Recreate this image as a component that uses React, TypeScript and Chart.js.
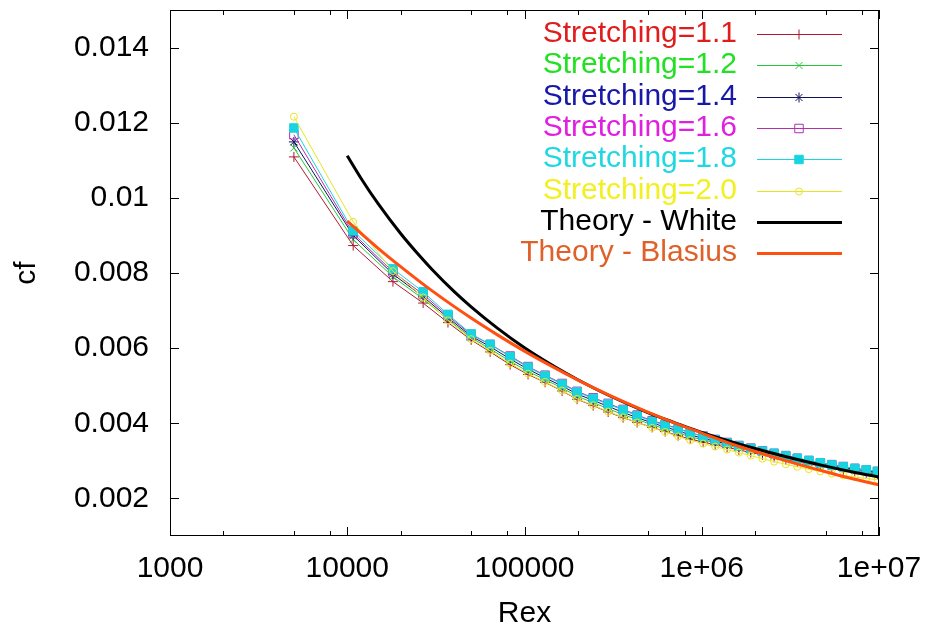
import React, { useEffect, useRef } from "react";
import { Chart, registerables } from "chart.js";
import { drawPoint } from "chart.js/helpers";

Chart.register(...registerables);

// ---------- data ----------
const rexGrid = [
  5000, 10800, 18100, 26800, 37000, 50000, 64000, 83000, 104700, 130600,
  163000, 198000, 244000, 296500, 360000, 432000, 525000, 621000, 736000, 861000,
  1018000, 1190000, 1390000, 1620000, 1890000, 2200000, 2560000, 2980000, 3460000, 4020000,
  4670000, 5420000, 6290000, 7300000, 8470000, 9800000,
];

const cfStretch11 = [
  0.01109, 0.00873, 0.00777, 0.0072, 0.00668, 0.00622, 0.0059, 0.00556, 0.0053, 0.00509,
  0.00486, 0.00464, 0.00447, 0.0043, 0.00415, 0.00402, 0.00389, 0.00378, 0.00367, 0.00358,
  0.0035, 0.00343, 0.00336, 0.00329, 0.00322, 0.00316, 0.00309, 0.00303, 0.00297, 0.00292,
  0.00286, 0.00281, 0.00276, 0.00272, 0.00268, 0.00264,
];
const cfStretch12 = [
  0.01133, 0.00889, 0.0079, 0.00731, 0.00676, 0.00628, 0.00598, 0.00565, 0.00538, 0.00516,
  0.00494, 0.00472, 0.00455, 0.00439, 0.00423, 0.0041, 0.00396, 0.00385, 0.00375, 0.00364,
  0.00356, 0.00348, 0.00341, 0.00334, 0.00327, 0.0032, 0.00313, 0.00307, 0.00301, 0.00295,
  0.00289, 0.00284, 0.00279, 0.00275, 0.00271, 0.00267,
];
const cfStretch14 = [
  0.01149, 0.009, 0.00797, 0.00737, 0.00681, 0.00632, 0.00604, 0.00571, 0.00544, 0.00521,
  0.00499, 0.00478, 0.00461, 0.00445, 0.00429, 0.00415, 0.00401, 0.0039, 0.0038, 0.00369,
  0.0036, 0.00352, 0.00345, 0.00337, 0.0033, 0.00323, 0.00316, 0.0031, 0.00304, 0.00298,
  0.00292, 0.00287, 0.00282, 0.00278, 0.00274, 0.0027,
];
const cfStretch16 = [
  0.01168, 0.00905, 0.00803, 0.00743, 0.00686, 0.00636, 0.0061, 0.00579, 0.00551, 0.00528,
  0.00506, 0.00485, 0.00468, 0.00453, 0.00437, 0.00422, 0.00407, 0.00397, 0.00386, 0.00375,
  0.00366, 0.00357, 0.00349, 0.00341, 0.00334, 0.00327, 0.0032, 0.00314, 0.00307, 0.00301,
  0.00295, 0.0029, 0.00285, 0.0028, 0.00276, 0.00272,
];
const cfStretch18 = [
  0.01186, 0.00912, 0.00811, 0.0075, 0.0069, 0.00638, 0.0061, 0.00577, 0.00549, 0.00526,
  0.00504, 0.00483, 0.00466, 0.00451, 0.00435, 0.0042, 0.00405, 0.00395, 0.00385, 0.00374,
  0.00365, 0.00356, 0.00348, 0.0034, 0.00333, 0.00326, 0.0032, 0.00313, 0.00307, 0.00301,
  0.00295, 0.00289, 0.00284, 0.0028, 0.00276, 0.00272,
];
const cfStretch20 = [
  0.01216, 0.00936, 0.00805, 0.00735, 0.00674, 0.00624, 0.00593, 0.00559, 0.00532, 0.0051,
  0.00487, 0.00465, 0.00448, 0.00431, 0.00416, 0.00402, 0.00388, 0.00377, 0.00365, 0.00355,
  0.00346, 0.00338, 0.0033, 0.00322, 0.00314, 0.00306, 0.00298, 0.00291, 0.00284, 0.00278,
  0.00272, 0.00266, 0.00261, 0.00257, 0.00253, 0.0025,
];

const rexWhite = [
  10000, 12000, 15000, 20000, 25000, 30000, 40000, 50000, 70000, 100000, 150000,
  200000, 300000, 500000, 700000, 1000000, 1500000, 2000000, 3000000, 5000000, 7000000, 10000000,
];
const cfWhite = [
  0.01112, 0.01051, 0.00983, 0.00905, 0.00851, 0.0081, 0.00751, 0.0071, 0.00654, 0.00601, 0.00549,
  0.00516, 0.00474, 0.00428, 0.00402, 0.00376, 0.0035, 0.00333, 0.00311, 0.00286, 0.00271, 0.00257,
];

const rexBlasius = [
  10000, 15000, 20000, 30000, 50000, 70000, 100000, 150000, 200000, 300000,
  500000, 700000, 1000000, 1500000, 2000000, 3000000, 5000000, 7000000, 10000000,
];
const cfBlasius = [
  0.00938, 0.00865, 0.00817, 0.00753, 0.0068, 0.00636, 0.00592, 0.00546, 0.00515, 0.00475,
  0.00429, 0.00401, 0.00374, 0.00344, 0.00325, 0.003, 0.00271, 0.00253, 0.00236,
];

const seriesLabels = [
  "Stretching=1.1",
  "Stretching=1.2",
  "Stretching=1.4",
  "Stretching=1.6",
  "Stretching=1.8",
  "Stretching=2.0",
  "Theory - White",
  "Theory - Blasius",
];

const xMajorTicks = [1000, 10000, 100000, 1000000, 10000000];
const xTickLabels = ["1000", "10000", "100000", "1e+06", "1e+07"];
const xMinorTicks = [
  2000, 5000, 8000, 20000, 50000, 80000, 200000, 500000, 800000, 2000000, 5000000, 8000000,
];
const yTicks = [0.002, 0.004, 0.006, 0.008, 0.01, 0.012, 0.014];
const yTickLabels = ["0.002", "0.004", "0.006", "0.008", "0.01", "0.012", "0.014"];

// ---------- styles ----------
const FONT = '"Liberation Sans", Arial, Helvetica, sans-serif';
const lineColors = ["#b01830", "#22c83a", "#12125e", "#b030b0", "#18d4e0", "#e8e420", "#000000", "#ff5010"];
const textColors = ["#e01c1c", "#22e022", "#1818a8", "#e020e0", "#20d8e2", "#f2f020", "#000000", "#e0602a"];
const markerStyles = ["cross", "crossRot", "star", "rect", "rect", "circle", "circle", "circle"];
const markerRadius = [5, 5, 5, 6, 6, 3.5, 0, 0];
const markerFill = [false, false, false, false, true, false, false, false];

function toPoints(xs: number[], ys: number[]) {
  return xs.map((x, i) => ({ x, y: ys[i] }));
}

const framePlugin = {
  id: "gnuFrame",
  afterDatasetsDraw(chart: any) {
    const { ctx, chartArea, scales } = chart;
    const { left, right, top, bottom } = chartArea;
    const xs = scales.x;
    const ys = scales.y;
    ctx.save();
    ctx.strokeStyle = "#000";
    ctx.lineWidth = 1;
    ctx.strokeRect(left + 0.5, top + 0.5, right - left - 1, bottom - top - 1);
    const major = 9;
    const minor = 5;
    ctx.beginPath();
    const vtick = (v: number, len: number) => {
      const px = Math.round(xs.getPixelForValue(v)) + 0.5;
      ctx.moveTo(px, bottom);
      ctx.lineTo(px, bottom - len);
      ctx.moveTo(px, top);
      ctx.lineTo(px, top + len);
    };
    xMajorTicks.forEach((v) => vtick(v, major));
    xMinorTicks.forEach((v) => vtick(v, minor));
    yTicks.forEach((v) => {
      const py = Math.round(ys.getPixelForValue(v)) + 0.5;
      ctx.moveTo(left, py);
      ctx.lineTo(left + major, py);
      ctx.moveTo(right, py);
      ctx.lineTo(right - major, py);
    });
    ctx.stroke();
    ctx.restore();
  },
};

const legendPlugin = {
  id: "gnuLegend",
  afterDraw(chart: any) {
    const { ctx } = chart;
    ctx.save();
    ctx.font = `30px ${FONT}`;
    ctx.textAlign = "right";
    ctx.textBaseline = "middle";
    chart.data.datasets.forEach((ds: any, i: number) => {
      const y = Math.round(34 + i * 31.3);
      ctx.fillStyle = textColors[i];
      ctx.fillText(ds.label, 737, y);
      ctx.strokeStyle = ds.borderColor;
      ctx.lineWidth = ds.borderWidth;
      const ly = ds.borderWidth % 2 === 1 ? y + 0.5 : y;
      ctx.beginPath();
      ctx.moveTo(757, ly);
      ctx.lineTo(842, ly);
      ctx.stroke();
      if (ds.pointRadius > 0) {
        ctx.lineWidth = ds.pointBorderWidth;
        ctx.strokeStyle = ds.pointBorderColor;
        ctx.fillStyle = ds.pointBackgroundColor;
        drawPoint(
          ctx,
          { pointStyle: ds.pointStyle, rotation: 0, radius: ds.pointRadius, borderWidth: ds.pointBorderWidth },
          799,
          ly
        );
      }
    });
    ctx.restore();
  },
};

export default function App() {
  const canvasRef = useRef<HTMLCanvasElement | null>(null);

  useEffect(() => {
    if (!canvasRef.current) return;
    const stretchSets = [cfStretch11, cfStretch12, cfStretch14, cfStretch16, cfStretch18, cfStretch20];
    const datasets: any[] = stretchSets.map((ys, i) => ({
      label: seriesLabels[i],
      data: toPoints(rexGrid, ys),
      borderColor: lineColors[i],
      borderWidth: 1,
      pointStyle: markerStyles[i],
      pointRadius: markerRadius[i],
      pointBorderColor: lineColors[i],
      pointBackgroundColor: markerFill[i] ? lineColors[i] : "rgba(0,0,0,0)",
      pointBorderWidth: 1,
      tension: 0,
      order: 7 - i,
    }));
    datasets.push({
      label: seriesLabels[6],
      data: toPoints(rexWhite, cfWhite),
      borderColor: lineColors[6],
      borderWidth: 3,
      pointRadius: 0,
      cubicInterpolationMode: "monotone",
      order: 1,
    });
    datasets.push({
      label: seriesLabels[7],
      data: toPoints(rexBlasius, cfBlasius),
      borderColor: lineColors[7],
      borderWidth: 3,
      pointRadius: 0,
      cubicInterpolationMode: "monotone",
      order: 0,
    });

    const chart = new Chart(canvasRef.current, {
      type: "line",
      data: { datasets },
      options: {
        responsive: false,
        maintainAspectRatio: false,
        devicePixelRatio: 1,
        animation: false,
        layout: { padding: { left: 0, right: 46, top: 10, bottom: 0 }, autoPadding: false },
        plugins: { legend: { display: false }, tooltip: { enabled: false } },
        scales: {
          x: {
            type: "logarithmic",
            min: 1000,
            max: 10000000,
            grid: { display: false, drawTicks: false },
            border: { display: false },
            ticks: {
              autoSkip: false,
              maxRotation: 0,
              minRotation: 0,
              padding: 15,
              color: "#000",
              font: { size: 30, family: FONT, lineHeight: 1.2 },
              callback: (_v: any, i: number) => xTickLabels[i],
            },
            afterBuildTicks: (s: any) => {
              s.ticks = xMajorTicks.map((v) => ({ value: v }));
            },
            afterFit: (s: any) => {
              s.height = 93;
              s.paddingLeft = 0;
              s.paddingRight = 0;
            },
            title: {
              display: true,
              text: "Rex",
              color: "#000",
              font: { size: 30, family: FONT, lineHeight: 1 },
              padding: { top: 0, bottom: 0 },
            },
          },
          y: {
            type: "linear",
            min: 0.001,
            max: 0.015,
            grid: { display: false, drawTicks: false },
            border: { display: false },
            ticks: {
              padding: 21,
              color: "#000",
              font: { size: 30, family: FONT, lineHeight: 1.2 },
              callback: (_v: any, i: number) => yTickLabels[i],
            },
            afterBuildTicks: (s: any) => {
              s.ticks = yTicks.map((v) => ({ value: v }));
            },
            afterFit: (s: any) => {
              s.width = 170;
              s.paddingTop = 0;
              s.paddingBottom = 0;
            },
            title: {
              display: true,
              text: "cf",
              color: "#000",
              font: { size: 30, family: FONT, lineHeight: 1 },
              padding: { top: 12, bottom: 0 },
            },
          },
        },
      } as any,
      plugins: [framePlugin, legendPlugin],
    });
    return () => chart.destroy();
  }, []);

  return (
    <div style={{ position: "fixed", left: 0, top: 0, width: 925, height: 629, background: "#fff" }}>
      <canvas ref={canvasRef} width={925} height={629} style={{ display: "block", width: 925, height: 629 }} />
    </div>
  );
}
